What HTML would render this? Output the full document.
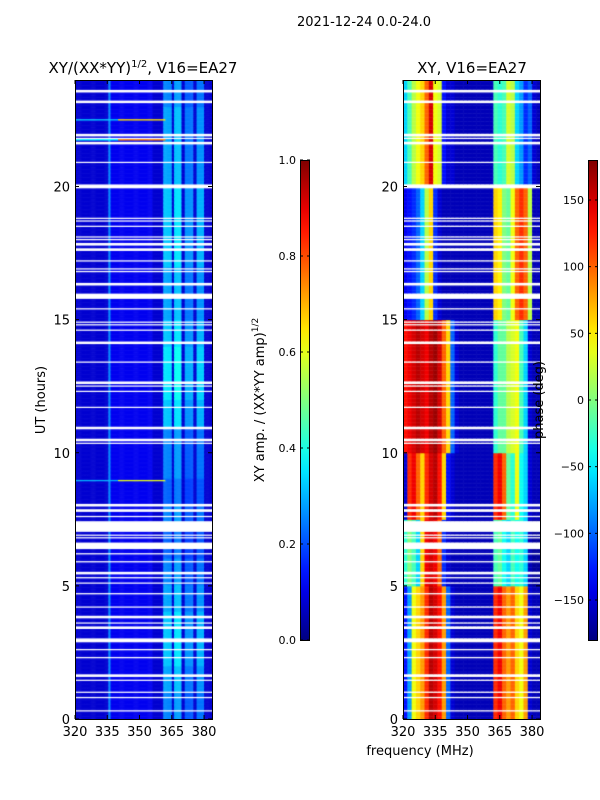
<!DOCTYPE html>
<html><head><meta charset="utf-8">
<style>
body{margin:0;background:#fff;font-family:"DejaVu Sans","Liberation Sans",sans-serif;}
#root{position:relative;width:600px;height:800px;overflow:hidden;background:#fff}
canvas{position:absolute}
</style></head><body>
<div id="root">
<svg id="svg" width="600" height="800" style="position:absolute;left:0;top:0"></svg>
</div>
<script>
// ---- data ----
const freqBins=[320,322,324,326,328,330,332,334,336,338,340,342,344,346,348,350,352,354,356,358,360,362,364,366,368,370,372,374,376,378,380,382];
const segStart=[20,15,10,7.5,5,0];
const segEnd=[24,20,15,10,7.5,5];
const phaseA=[-60,-20,20,40,60,100,150,40,30,-130,-150,-150,-160,-160,-160,-160,-160,-160,-160,-160,-160,-20,-30,-20,30,20,-60,-80,-120,-100,-150,-160];
const phaseB=[-140,-130,-120,-100,-60,20,60,-120,-150,-160,-160,-160,-160,-160,-160,-160,-160,-160,-160,-160,-160,60,50,0,-10,40,100,120,100,20,-160,-160];
const phaseC=[130,140,150,160,150,140,160,170,150,100,60,-100,-150,-160,-160,-160,-160,-160,-160,-160,-160,-30,-10,-10,20,30,40,-20,-60,-150,-160,-160];
const phaseD=[-150,120,140,100,60,120,150,160,130,60,-130,-150,-160,-160,-160,-160,-160,-160,-160,-160,-160,120,140,100,-10,-30,40,-40,-60,-150,-160,-160];
const phaseE=[-30,0,-20,-60,60,140,150,140,100,-120,-150,-160,-160,-160,-160,-160,-160,-160,-160,-160,-160,-20,-10,-40,-60,-20,-40,-30,-60,-160,-170,-170];
const phaseF=[-130,-80,40,60,80,120,160,150,130,80,-100,-150,-160,-160,-160,-160,-160,-160,-160,-160,-160,120,140,100,80,100,60,40,80,-150,-160,-160];
const phaseSegs=[phaseA,phaseB,phaseC,phaseD,phaseE,phaseF];
const ampBase=0.08;
const bandStart=[361,366,371,376.5,335.5];
const bandEnd=[365,369.5,375,380,336.5];
const bandAmp=[0.32,0.35,0.27,0.3,0.26];
const hourWeight=[0.8,0.9,1.0,1.0,0.9,0.8,0.7,0.8,0.7,0.8,0.8,1.0,1.1,1.1,1.0,0.9,0.9,1.0,1.0,1.0,0.9,0.9,0.9,0.8];
const eventHour=[22.5,21.75,8.95];
const eventAmp=[0.65,0.75,0.6];
const flagStart=[23.55,23.15,21.92,21.78,21.62,20.9,19.95,18.8,18.68,18.5,18.1,17.98,17.82,17.62,17.2,16.9,16.78,16.3,15.92,15.82,15.4,14.9,14.78,14.6,14.12,13.4,12.62,12.5,12.3,11.7,10.92,10.45,10.35,8.02,7.82,7.6,7.03,6.88,6.78,6.42,6.2,5.9,5.45,5.3,5.1,4.7,4.2,3.82,3.6,3.42,2.92,2.58,2.3,1.6,1.44,1.0,0.8,0.28];
const flagLen=[0.08,0.08,0.06,0.06,0.06,0.06,0.16,0.06,0.06,0.06,0.06,0.06,0.06,0.06,0.06,0.06,0.06,0.08,0.06,0.06,0.06,0.06,0.06,0.06,0.06,0.06,0.06,0.06,0.06,0.06,0.08,0.08,0.06,0.08,0.06,0.06,0.42,0.06,0.06,0.22,0.06,0.06,0.12,0.06,0.06,0.06,0.06,0.06,0.06,0.06,0.12,0.06,0.06,0.1,0.06,0.06,0.06,0.08];
const xTicks=[320,335,350,365,380];
const yTicks=[0,5,10,15,20];
const ampTicks=[0.0,0.2,0.4,0.6,0.8,1.0];
const phaseTicks=[-150,-100,-50,0,50,100,150];

// ---- helpers ----
const NS="http://www.w3.org/2000/svg";
const svg=document.getElementById('svg');
const root=document.getElementById('root');
function jet(v){v=Math.max(0,Math.min(1,v));const c=x=>Math.round(255*Math.max(0,Math.min(1,1.5-Math.abs(4*v-x))));return `rgb(${c(3)},${c(2)},${c(1)})`;}
function el(tag,attrs,parent){const e=document.createElementNS(NS,tag);for(const k in attrs)e.setAttribute(k,attrs[k]);(parent||svg).appendChild(e);return e;}
const plotW=137,plotT=80,plotB=719,fMin=320,fMax=383.7;
const panels=[{x0:75,kind:'amp'},{x0:403,kind:'phase'}];
function xs(p,f){return p.x0+(f-fMin)/(fMax-fMin)*plotW;}
function ys(h){return plotB-h/24*(plotB-plotT);}
function isFlag(h){for(let i=0;i<flagStart.length;i++){if(h>=flagStart[i]&&h<flagStart[i]+flagLen[i])return true;}return false;}
function segIdx(h){for(let i=0;i<segStart.length;i++){if(h>=segStart[i]&&h<segEnd[i])return i;}return segStart.length-1;}
function ampVal(f,h){let v=ampBase+(f>336&&f<356?0.03:0);for(let i=0;i<bandStart.length;i++){if(f>=bandStart[i]&&f<bandEnd[i])v=bandAmp[i]*(i<4?hourWeight[Math.min(23,Math.floor(h))]:1);}
 if(f<362){for(let i=0;i<eventHour.length;i++){if(Math.abs(h-eventHour[i])<0.03)v=eventAmp[i]*((f>340)?1:0.5);}}return v;}

const dh=0.05;
panels.forEach((p,pi)=>{
 const cv=document.createElement('canvas');
 cv.width=plotW;cv.height=plotB-plotT;cv.style.left=p.x0+'px';cv.style.top=plotT+'px';
 
 
 root.insertBefore(cv,svg);
 const ctx=cv.getContext('2d');
 for(let h=0;h<24;h+=dh){
  const yTop=ys(h+dh)-plotT,yBot=ys(h)-plotT;
  if(isFlag(h+dh/2)){ctx.fillStyle='#fff';ctx.fillRect(0,yTop,plotW,yBot-yTop+0.5);continue;}
  if(p.kind=='amp'){
   for(let f=320;f<384;f+=0.5){ctx.fillStyle=jet(ampVal(f+0.25,h));ctx.fillRect(xs(p,f)-p.x0,yTop,plotW/(fMax-fMin)*0.5+0.5,yBot-yTop+0.5);}
  }else{
   const arr=phaseSegs[segIdx(h+dh/2)];
   for(let j=0;j<freqBins.length;j++){ctx.fillStyle=jet((arr[j]+180)/360);ctx.fillRect(xs(p,freqBins[j])-p.x0,yTop,plotW/(fMax-fMin)*2+0.5,yBot-yTop+0.5);}
  }
 }
 const fr=el('rect',{x:p.x0+0.5,y:plotT+0.5,width:plotW,height:plotB-plotT,fill:'none',stroke:'#000','stroke-width':1});
 
 xTicks.forEach(t=>{const x=xs(p,t);el('line',{x1:x,x2:x,y1:plotB,y2:plotB-4,stroke:'#000'});el('line',{x1:x,x2:x,y1:plotT,y2:plotT+4,stroke:'#000'});
  const tx=el('text',{x:x,y:plotB+17,'text-anchor':'middle','font-size':13,'font-family':'DejaVu Sans, sans-serif'});tx.textContent=t;
  });
 yTicks.forEach(t=>{const y=ys(t);el('line',{x1:p.x0,x2:p.x0+4,y1:y,y2:y,stroke:'#000'});el('line',{x1:p.x0+plotW,x2:p.x0+plotW-4,y1:y,y2:y,stroke:'#000'});
  const tx=el('text',{x:p.x0-5,y:y+5,'text-anchor':'end','font-size':13,'font-family':'DejaVu Sans, sans-serif'});tx.textContent=t;
  });
});

function colorbar(x,ticks,lo,hi,name){
 const id='g'+name;const d=el('defs',{});const lg=el('linearGradient',{id:id,x1:0,y1:1,x2:0,y2:0},d);
 for(let i=0;i<=20;i++){el('stop',{offset:i/20,'stop-color':jet(i/20)},lg);}
 const r=el('rect',{x:x+0.5,y:160.5,width:9,height:480,fill:`url(#${id})`,stroke:'#000'});
 
 ticks.forEach(t=>{const y=640-(t-lo)/(hi-lo)*480;el('line',{x1:x,x2:x+3,y1:y,y2:y,stroke:'#000'});el('line',{x1:x+10,x2:x+7,y1:y,y2:y,stroke:'#000'});
  const tx=el('text',{x:x-4,y:y+4,'text-anchor':'end','font-size':11,'font-family':'DejaVu Sans, sans-serif'});tx.textContent=(lo==0?t.toFixed(1):(t<0?'\u2212'+(-t):t));
  });
}
colorbar(300,ampTicks,0,1,'amp-colorbar');
colorbar(588,phaseTicks,-180,180,'phase-colorbar');
function text(x,y,s,size,name,extra){const t=el('text',Object.assign({x:x,y:y,'font-size':size,'text-anchor':'middle','font-family':'DejaVu Sans, sans-serif'},extra||{}));t.innerHTML=s;return t;}
text(364,26,'2021-12-24 0.0-24.0',13,'figure-title');
text(143,73,'XY/(XX*YY)<tspan dy="-6" font-size="10">1/2</tspan><tspan dy="6">, V16=EA27</tspan>',15,'left-title');
text(472,73,'XY, V16=EA27',15,'right-title');
text(420,755,'frequency (MHz)',13,'x-axis-title');
text(45,400,'UT (hours)',13,'y-axis-title',{transform:'rotate(-90 45 400)'});
text(264,400,'XY amp. / (XX*YY amp)<tspan dy="-6" font-size="9">1/2</tspan>',13,'amp-colorbar-title',{transform:'rotate(-90 264 400)'});
text(543,400,'phase (deg)',13,'phase-colorbar-title',{transform:'rotate(-90 543 400)'});
</script>
</body></html>
